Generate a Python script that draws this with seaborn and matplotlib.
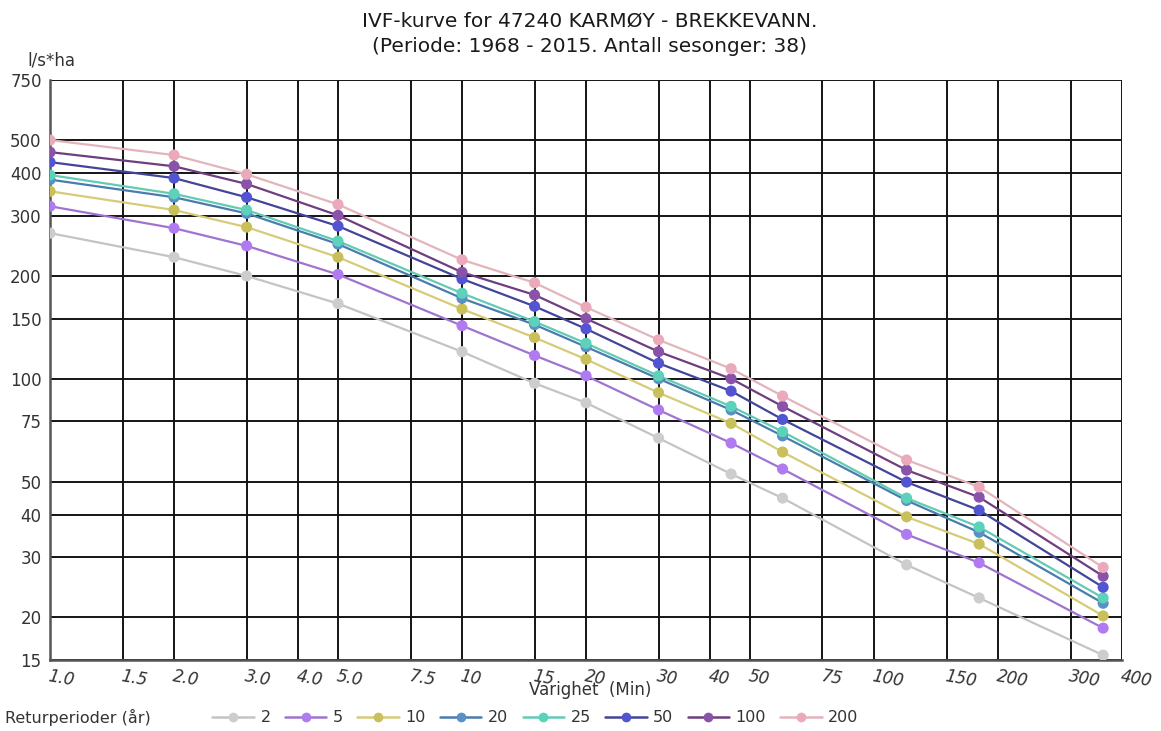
import numpy as np
import pandas as pd
import matplotlib
matplotlib.use('Agg')
import matplotlib.pyplot as plt
import seaborn as sns
from matplotlib.ticker import FixedLocator, NullLocator, FixedFormatter
from matplotlib.lines import Line2D

# Data
varighet = [1, 2, 3, 5, 10, 15, 20, 30, 45, 60, 120, 180, 360]
perioder = ['2', '5', '10', '20', '25', '50', '100', '200']
verdier = {
    '2':   [267, 227, 200, 166, 120, 97, 85, 67, 52.6, 44.7, 28.5, 22.8, 15.5],
    '5':   [320, 276, 245, 202, 143, 117, 102, 81, 64.8, 54.4, 35, 28.9, 18.6],
    '10':  [354, 312, 278, 227, 160, 132, 114, 91, 74, 61, 39.4, 32.8, 20.2],
    '20':  [383, 340, 305, 248, 172, 144, 124, 100, 81, 68, 44, 35.5, 22.0],
    '25':  [395, 348, 312, 253, 178, 147, 127, 102, 83, 70, 44.7, 36.8, 22.8],
    '50':  [431, 387, 340, 280, 196, 163, 140, 111, 92, 76, 49.8, 41.2, 24.5],
    '100': [461, 419, 372, 301, 205, 176, 150, 120, 100, 83, 54, 45, 26.4],
    '200': [500, 452, 397, 324, 223, 191, 162, 130, 107, 89, 57.8, 48.2, 28],
}
x_ticks = [1, 1.5, 2, 3, 4, 5, 7.5, 10, 15, 20, 30, 40, 50, 75, 100, 150, 200, 300, 400]
x_labels = ['1.0', '1.5', '2.0', '3.0', '4.0', '5.0', '7.5', '10', '15', '20', '30',
            '40', '50', '75', '100', '150', '200', '300', '400']
y_ticks = [15, 20, 30, 40, 50, 75, 100, 150, 200, 300, 400, 500, 750]

line_colors = {'2': '#c4c4c4', '5': '#9f74d0', '10': '#d6cc78', '20': '#4a7cae',
               '25': '#62cbb4', '50': '#44449a', '100': '#6e3e80', '200': '#e4b4bc'}
marker_colors = {'2': '#cdcdcd', '5': '#b07af0', '10': '#c9c05c', '20': '#5a90c4',
                 '25': '#5cd2ba', '50': '#5254d2', '100': '#8a52a8', '200': '#eaaabb'}

rows = []
for p in perioder:
    for x, v in zip(varighet, verdier[p]):
        rows.append({'Varighet': x, 'Intensitet': v, 'Periode': p})
df = pd.DataFrame(rows)

sns.set_style('white')
plt.rcParams['font.family'] = ['DejaVu Sans']

fig = plt.figure(figsize=(11.61, 7.31), dpi=100)
ax = fig.add_axes([0.0431, 0.0971, 0.9233, 0.7935])

ax.set_xscale('log')
ax.set_yscale('log')
ax.set_xlim(1, 400)
ax.set_ylim(15, 750)

# rutenett
for xt in x_ticks:
    ax.axvline(xt, color='#141414', lw=1.4, zorder=1)
for yt in y_ticks:
    ax.axhline(yt, color='#141414', lw=1.4, zorder=1)

sns.lineplot(data=df, x='Varighet', y='Intensitet', hue='Periode', hue_order=perioder,
             palette=line_colors, lw=1.6, legend=False, ax=ax, zorder=3)
sns.scatterplot(data=df, x='Varighet', y='Intensitet', hue='Periode', hue_order=perioder,
                palette=marker_colors, s=64, edgecolor='none', legend=False, ax=ax, zorder=4)

ax.xaxis.set_major_locator(FixedLocator(x_ticks))
ax.xaxis.set_major_formatter(FixedFormatter(x_labels))
ax.xaxis.set_minor_locator(NullLocator())
ax.yaxis.set_major_locator(FixedLocator(y_ticks))
ax.yaxis.set_major_formatter(FixedFormatter([str(v) for v in y_ticks]))
ax.yaxis.set_minor_locator(NullLocator())

ax.tick_params(axis='y', labelsize=12, labelcolor='#333333', length=4, width=1.2,
               color='#555555', pad=2)
ax.tick_params(axis='x', labelsize=12, labelcolor='#333333', length=4, width=1.2,
               color='#555555', pad=1)
for lbl in ax.get_xticklabels():
    lbl.set_fontstyle('italic')
    lbl.set_rotation(-10)
    lbl.set_ha('left')
    lbl.set_rotation_mode('anchor')

for side in ['top', 'right']:
    ax.spines[side].set_visible(False)
for side in ['left', 'bottom']:
    ax.spines[side].set_color('#555555')
    ax.spines[side].set_linewidth(1.8)

ax.set_xlabel('')
ax.set_ylabel('')
fig.text(0.508, 0.056, 'Varighet  (Min)', fontsize=12, color='#333333',
         ha='center', va='center')
fig.text(0.024, 0.905, 'l/s*ha', fontsize=12, color='#333333', ha='left', va='bottom')

fig.text(0.508, 0.971, 'IVF-kurve for 47240 KARMØY - BREKKEVANN.', fontsize=14.5,
         color='#1a1a1a', ha='center', va='center')
fig.text(0.508, 0.937, '(Periode: 1968 - 2015. Antall sesonger: 38)', fontsize=14.5,
         color='#1a1a1a', ha='center', va='center')

# forklaring nederst
fig.text(0.004, 0.018, 'Returperioder (år)', fontsize=11.5, color='#333333',
         ha='left', va='center')
handles = [Line2D([], [], color=line_colors[p], lw=1.8, marker='o', markersize=7,
                  markerfacecolor=marker_colors[p], markeredgecolor='none',
                  markevery=[0]) for p in perioder]
fig.legend(handles, perioder, loc='center left', bbox_to_anchor=(0.183, 0.018),
           ncol=len(perioder), frameon=False, fontsize=11.5, handlelength=2.6,
           handletextpad=0.4, columnspacing=0.9, borderaxespad=0, borderpad=0,
           labelcolor='#333333')

fig.savefig('out.png', dpi=100)
